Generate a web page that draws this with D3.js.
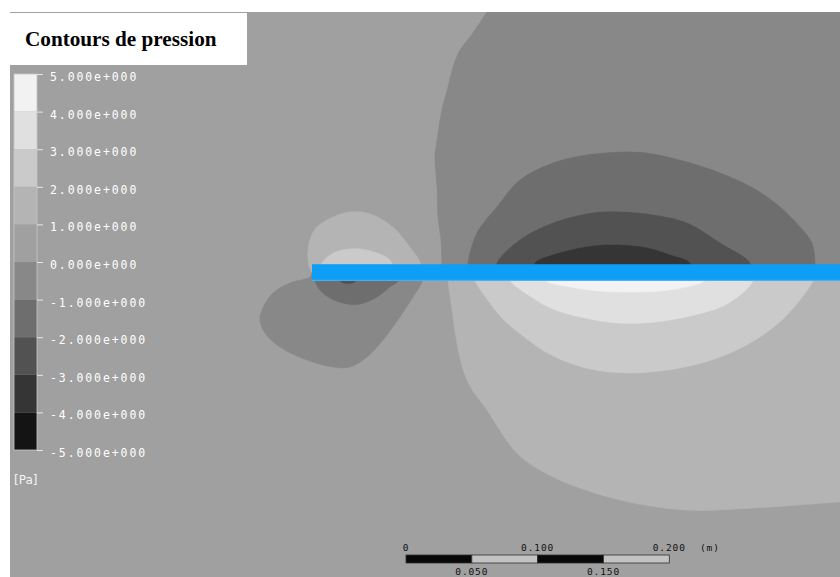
<!DOCTYPE html>
<html>
<head>
<meta charset="utf-8">
<script src="https://cdn.jsdelivr.net/npm/d3@7"></script>
<style>
  html, body { margin: 0; padding: 0; background: #ffffff; }
  svg { display: block; }
</style>
</head>
<body>
<svg id="chart" width="840" height="577"></svg>
<script>
// ---- Pressure bands (Pa) and their grey shades -------------------------
const levels = [-5, -4, -3, -2, -1, 0, 1, 2, 3, 4, 5];
const bandColors = ["#141414", "#353535", "#525252", "#6e6e6e", "#888888",
                    "#a0a0a0", "#b4b4b4", "#cacaca", "#e0e0e0", "#f2f2f2"];
const tickLabels = ["5.000e+000", "4.000e+000", "3.000e+000", "2.000e+000",
                    "1.000e+000", "0.000e+000", "-1.000e+000", "-2.000e+000",
                    "-3.000e+000", "-4.000e+000", "-5.000e+000"];
const unitLabel = "[Pa]";
const titleText = "Contours de pression";

// ---- Field window in mm (plate leading edge at x = 0, mid-plane y = 0) --
const fieldX = [-229.4, 401.1];
const fieldY = [197.9, -231.3];
const plateX = [0, 420];
const plateY = [-6.3, 6.3];

// ---- Iso-band outlines (mm). Each one closes back along the plate. -------
// suction side, downstream dome
const domeM1 = [[139.0,207.0],[132.9,197.9],[120.0,178.9],[112.4,169.0],[107.1,156.1],
  [103.3,140.9],[98.7,123.4],[95.0,100.6],[93.4,87.7],[95.0,64.9],[95.7,42.2],
  [98.0,24.7],[98.7,7.2],[98.7,0]];
const domeM1Close = [[420,0],[420,215],[139,215]];
const domeM2 = [[118.5,0],[118.5,7.2],[125.3,30.0],[140.5,49.8],[158.0,70.3],[183.1,83.2],
  [208.9,89.3],[241.6,91.5],[259.0,90.0],[284.9,83.9],[309.9,75.6],[335.0,64.2],
  [355.5,49.8],[370.7,34.6],[379.8,22.4],[382.1,7.2],[382.1,0]];
const domeM3 = [[140.5,0],[140.5,7.2],[158.0,24.7],[183.1,37.6],[213.4,45.2],[234.0,46.0],
  [259.0,43.7],[284.9,37.6],[309.9,22.4],[332.7,7.2],[332.7,0]];
const domeM4 = [[169.4,0],[169.4,7.2],[183.1,13.3],[208.9,19.4],[228.6,20.9],[254.5,18.6],
  [271.9,13.3],[287.1,7.2],[287.1,0]];

// pressure side, downstream bowl
const bowlP1 = [[103.3,0],[103.3,-5.7],[106.3,-27.7],[110.1,-53.6],[114.7,-73.3],[120.0,-86.2],
  [132.9,-104.4],[155.7,-137.1],[183.1,-155.3],[234.0,-172.8],[284.9,-180.4],
  [335.0,-178.9],[401.1,-174.3],[420,-173.5]];
const bowlP1Close = [[420,0]];
const bowlP2 = [[123.8,0],[123.8,-5.7],[132.9,-20.1],[145.1,-35.3],[163.3,-50.5],[183.1,-63.4],
  [211.2,-73.3],[239.3,-76.3],[264.3,-74.8],[287.1,-71.0],[312.2,-63.4],[338.0,-50.5],
  [357.8,-35.3],[373.0,-17.9],[380.6,-5.7],[380.6,0]];
const bowlP3 = [[150.4,0],[150.4,-5.7],[165.6,-17.9],[183.1,-27.7],[211.2,-35.3],[234.0,-38.4],
  [260.5,-37.6],[287.1,-33.0],[312.2,-25.4],[330.4,-12.5],[335.0,-5.7],[335.0,0]];
const bowlP4 = [[177.0,0],[177.0,-5.7],[196.0,-11.0],[218.8,-14.1],[241.6,-14.8],[264.3,-14.1],
  [287.1,-10.3],[298.5,-5.7],[298.5,0]];

// leading-edge lobes
const noseUpP1 = [[0,0],[-2.3,4.9],[-3.0,17.1],[-0.8,27.0],[3.8,34.6],[16.0,42.2],[28.9,46.0],
  [41.8,45.2],[53.9,39.9],[64.6,31.5],[71.4,23.2],[76.7,16.3],[80.5,11.0],[82.8,5.7],[82.8,0]];
const noseUpP2 = [[6.1,0],[6.1,4.9],[13.7,13.3],[23.5,17.1],[36.5,17.9],[49.4,14.8],
  [58.5,10.3],[61.5,4.9],[61.5,0]];
const noseLoM1 = [[0,0],[-1.5,-3.4],[-16.7,-8.0],[-29.6,-15.6],[-38.0,-28.5],[-39.5,-36.1],
  [-35.7,-46.0],[-24.3,-56.6],[-3.8,-66.5],[16.0,-71.8],[28.9,-71.8],[41.8,-64.2],
  [53.9,-51.3],[66.8,-33.8],[76.7,-18.6],[83.6,-7.2],[84.3,-2.7],[84.3,0]];
const noseLoM2 = [[2.3,0],[2.3,-6.5],[6.1,-13.3],[13.7,-19.4],[26.6,-23.9],[36.5,-23.9],
  [49.4,-18.6],[59.2,-11.0],[65.3,-6.5],[65.3,0]];
const noseLoM3 = [[21.3,0],[21.3,-6.5],[27.3,-8.4],[33.4,-6.5],[33.4,0]];

// each band: lower bound of its pressure interval
const regions = [
  { low: -1, edge: domeM1, close: domeM1Close },
  { low: -2, edge: domeM2, close: [] },
  { low: -3, edge: domeM3, close: [] },
  { low: -4, edge: domeM4, close: [] },
  { low:  1, edge: bowlP1, close: bowlP1Close },
  { low:  2, edge: bowlP2, close: [] },
  { low:  3, edge: bowlP3, close: [] },
  { low:  4, edge: bowlP4, close: [] },
  { low:  1, edge: noseUpP1, close: [] },
  { low:  2, edge: noseUpP2, close: [] },
  { low: -1, edge: noseLoM1, close: [] },
  { low: -2, edge: noseLoM2, close: [] },
  { low: -3, edge: noseLoM3, close: [] }
];

// ---- Length scale bar (m) ------------------------------------------------
const barTicks = [0, 0.05, 0.1, 0.15, 0.2];
const barTopLabels = [[0, "0"], [0.1, "0.100"], [0.2, "0.200"]];
const barBottomLabels = [[0.05, "0.050"], [0.15, "0.150"]];
const barUnit = "(m)";

// ---- Drawing -------------------------------------------------------------
const svg = d3.select("#chart");
const view = { left: 10, top: 12, right: 840, bottom: 577 };

const x = d3.scaleLinear().domain(fieldX).range([view.left, view.right]);
const y = d3.scaleLinear().domain(fieldY).range([view.top, view.bottom]);
const color = d3.scaleThreshold().domain(levels.slice(1, -1)).range(bandColors);

svg.append("defs").append("clipPath").attr("id", "viewClip")
  .append("rect")
  .attr("x", view.left).attr("y", view.top)
  .attr("width", view.right - view.left).attr("height", view.bottom - view.top);

const field = svg.append("g").attr("clip-path", "url(#viewClip)");

// base band (0..1 Pa) fills the far field
field.append("rect")
  .attr("x", view.left).attr("y", view.top)
  .attr("width", view.right - view.left).attr("height", view.bottom - view.top)
  .attr("fill", color(0.5));

const smooth = d3.line().x(d => x(d[0])).y(d => y(d[1])).curve(d3.curveCatmullRom.alpha(0.5));
const straight = d3.line().x(d => x(d[0])).y(d => y(d[1]));

function bandPath(r) {
  let p = smooth(r.edge);
  if (r.close.length) {
    p += straight([r.edge[r.edge.length - 1], ...r.close]).replace(/^M[^L]*/, "");
  }
  return p + "Z";
}

field.selectAll("path.band")
  .data(regions)
  .join("path")
  .attr("class", "band")
  .attr("d", bandPath)
  .attr("fill", d => color(d.low + 0.5))
  .attr("stroke", d => color(d.low + 0.5))
  .attr("stroke-width", 0.6);

// flat plate
field.append("rect")
  .attr("x", x(plateX[0])).attr("y", y(plateY[1]))
  .attr("width", x(plateX[1]) - x(plateX[0]))
  .attr("height", y(plateY[0]) - y(plateY[1]))
  .attr("fill", "#0f9ef7");
field.append("rect")
  .attr("x", x(plateX[0])).attr("y", y(plateY[0]) - 1)
  .attr("width", x(plateX[1]) - x(plateX[0]))
  .attr("height", 1)
  .attr("fill", "#4bb6f6");

// title box
svg.append("rect")
  .attr("x", 10).attr("y", 13).attr("width", 237).attr("height", 52)
  .attr("fill", "#ffffff");
svg.append("text")
  .attr("x", 25).attr("y", 45.5)
  .attr("font-family", "'Liberation Serif', 'Times New Roman', serif")
  .attr("font-weight", "bold")
  .attr("font-size", 21.2)
  .attr("fill", "#000000")
  .text(titleText);

// colour legend
const legendY = d3.scaleLinear().domain([5, -5]).range([74, 450]);
const legend = svg.append("g");
const bands = d3.range(levels.length - 1).map(i => [levels[i], levels[i + 1]]);
legend.selectAll("rect.key")
  .data(bands)
  .join("rect")
  .attr("class", "key")
  .attr("x", 14)
  .attr("width", 23)
  .attr("y", d => legendY(d[1]))
  .attr("height", d => legendY(d[0]) - legendY(d[1]))
  .attr("fill", d => color((d[0] + d[1]) / 2));
legend.append("rect")
  .attr("x", 14).attr("y", 74).attr("width", 23).attr("height", 376)
  .attr("fill", "none").attr("stroke", "#c6c6c6").attr("stroke-width", 0.8);

const levelsDesc = levels.slice().reverse();
const legendAxis = d3.axisRight(legendY)
  .tickValues(levelsDesc)
  .tickSize(6)
  .tickPadding(7)
  .tickFormat(d => tickLabels[levelsDesc.indexOf(d)]);
const axisG = legend.append("g").attr("transform", "translate(37,0)").call(legendAxis);
axisG.select(".domain").remove();
axisG.selectAll(".tick line").attr("stroke", "#e6e6e6");
axisG.selectAll(".tick text")
  .attr("fill", "#ffffff")
  .attr("dy", "0.56em")
  .attr("font-family", "'DejaVu Sans Mono', monospace")
  .attr("font-size", 11.5)
  .attr("letter-spacing", 1.9);

legend.append("text")
  .attr("x", 14).attr("y", 484)
  .attr("font-family", "'DejaVu Sans', sans-serif")
  .attr("font-size", 12)
  .attr("fill", "#f4f4f4")
  .text(unitLabel);

// length scale bar, same mm-to-pixel ratio as the field
const barX = d3.scaleLinear().domain([0, 0.2]).range([406, 406 + (x(200) - x(0))]);
const bar = svg.append("g");
const segs = d3.range(barTicks.length - 1).map(i => [barTicks[i], barTicks[i + 1], i]);
bar.selectAll("rect.seg")
  .data(segs)
  .join("rect")
  .attr("class", "seg")
  .attr("x", d => barX(d[0]))
  .attr("y", 555)
  .attr("width", d => barX(d[1]) - barX(d[0]))
  .attr("height", 8)
  .attr("fill", d => d[2] % 2 === 0 ? "#080808" : "#c2c2c2")
  .attr("stroke", "#303030")
  .attr("stroke-width", 0.8);

const barFont = sel => sel
  .attr("font-family", "'DejaVu Sans Mono', monospace")
  .attr("font-size", 9.5)
  .attr("letter-spacing", 0.9)
  .attr("fill", "#111111");

bar.selectAll("text.top")
  .data(barTopLabels)
  .join("text")
  .attr("class", "top")
  .attr("x", d => barX(d[0]))
  .attr("y", 551)
  .attr("text-anchor", "middle")
  .call(barFont)
  .text(d => d[1]);
bar.selectAll("text.bottom")
  .data(barBottomLabels)
  .join("text")
  .attr("class", "bottom")
  .attr("x", d => barX(d[0]))
  .attr("y", 575)
  .attr("text-anchor", "middle")
  .call(barFont)
  .text(d => d[1]);
bar.append("text")
  .attr("x", 700).attr("y", 551)
  .call(barFont)
  .text(barUnit);
</script>
</body>
</html>
